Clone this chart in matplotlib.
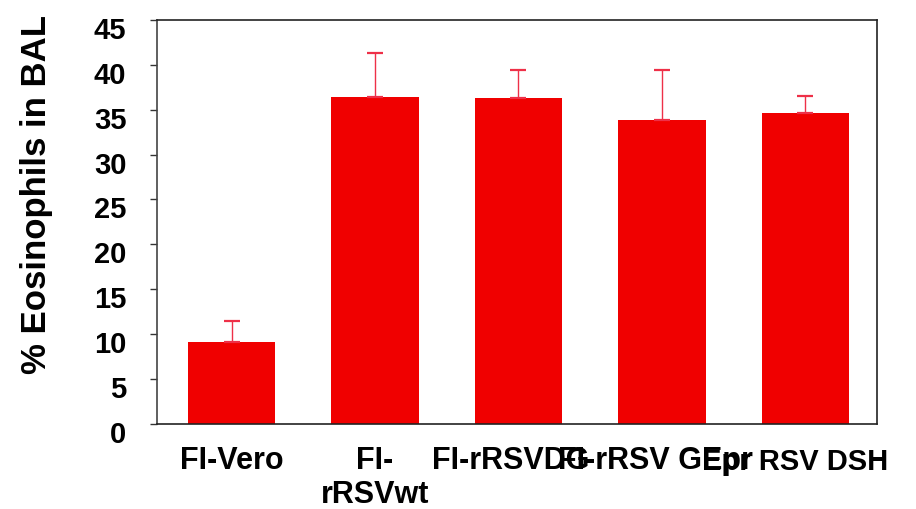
import matplotlib
matplotlib.use("Agg")
import matplotlib.pyplot as plt
import matplotlib.transforms as mtransforms

categories = ["FI-Vero", "FI-\nrRSVwt", "FI-rRSVDG", "FI-rRSV GEpr", "Epr RSV DSH"]
values = [9.1, 36.4, 36.3, 33.9, 34.6]
errors = [2.4, 4.9, 3.1, 5.5, 1.9]
yticks = [0, 5, 10, 15, 20, 25, 30, 35, 40, 45]

plt.rcParams['font.family'] = ['Liberation Sans', 'DejaVu Sans']

fig = plt.figure(figsize=(9.16, 5.09), dpi=100)
ax = fig.add_axes([0.1714, 0.167, 0.786, 0.794])

x = list(range(len(categories)))
ax.bar(x, values, width=0.61, color='#F00000', zorder=2)
ax.errorbar(x, values, yerr=[[0]*len(errors), errors], fmt='none',
            ecolor='#EE3048', elinewidth=1.0, capsize=6, capthick=1.6, zorder=3)

ax.set_xlim(-0.52, 4.5)
ax.set_ylim(0, 45)
ax.set_yticks(yticks)
ax.set_yticklabels([str(t) for t in yticks], fontsize=21, fontweight='bold')
ax.tick_params(axis='y', direction='out', length=5, width=1, pad=17, color='#333333')
offset = mtransforms.ScaledTranslation(0, -8/100, fig.dpi_scale_trans)
for lab in ax.get_yticklabels():
    lab.set_transform(lab.get_transform() + offset)

ax.set_xticks(x)
ax.set_xticklabels(categories, fontsize=22, fontweight='bold', linespacing=1.15, va='top')
ax.tick_params(axis='x', length=0, pad=16)
xshift = [0, 0, -8, -6, -10]
yshift = [0, 0, 0, 0, -2]
xsize = [22, 22, 22, 22, 21]
for lab, dx, dy, fs in zip(ax.get_xticklabels(), xshift, yshift, xsize):
    lab.set_fontsize(fs)
    lab.set_transform(lab.get_transform() + mtransforms.ScaledTranslation(dx/100, dy/100, fig.dpi_scale_trans))

for sp in ax.spines.values():
    sp.set_linewidth(1.2)
    sp.set_color('#222222')
ax.spines['left'].set_color('#444444')

ax.set_ylabel("% Eosinophils in BAL", fontsize=25, fontweight='bold', va='center')
ax.yaxis.set_label_coords(-0.168, 0.567)

fig.savefig("out.png", dpi=100)
